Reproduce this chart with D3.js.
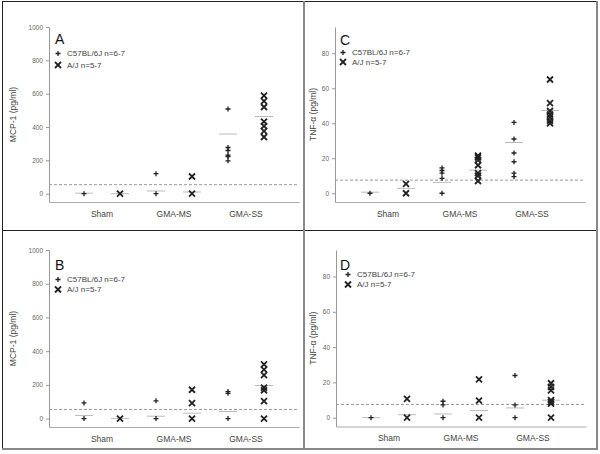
<!DOCTYPE html>
<html>
<head>
<meta charset="utf-8">
<script src="https://cdn.jsdelivr.net/npm/d3@7"></script>
<style>
  body { margin: 0; background: #fff; }
  svg { display: block; font-family: Arial, "Liberation Sans", sans-serif; }
</style>
</head>
<body>
<script>
// categories and legend
var groups = ["Sham", "GMA-MS", "GMA-SS"];
var strains = ["C57BL/6J", "A/J"];
var legendLabels = ["C57BL/6J n=6-7", "A/J n=5-7"];
var mcpTicks = [0, 200, 400, 600, 800, 1000];
var tnfTicks = [0, 20, 40, 60, 80];
var mcpLimit = 54;
var tnfLimit = 7.5;

// panel A - MCP-1
var mcpA_c57 = [[0], [120, 0], [508, 277, 259, 231, 223, 197]];
var mcpA_aj = [[0], [103, 0], [588, 555, 520, 432, 405, 375, 340]];
var mcpA_c57Mean = [3, 16, 358];
var mcpA_ajMean = [0, 10, 463];

// panel B - MCP-1
var mcpB_c57 = [[93, 0], [105, 0], [160, 150, 0]];
var mcpB_aj = [[0], [171, 91, 0], [322, 290, 258, 183, 168, 103, 0]];
var mcpB_c57Mean = [18, 14, 42];
var mcpB_ajMean = [0, 32, 196];

// panel C - TNF-alpha
var tnfC_c57 = [[0], [14.5, 13, 11.5, 8.5, 0], [40.5, 31, 23, 18, 11.5, 9.5]];
var tnfC_aj = [[5.4, 0], [21.5, 20.5, 19, 16, 11.5, 10, 7], [65, 51.5, 47, 45, 43.5, 41.5, 40]];
var tnfC_c57Mean = [0.6, 6.2, 29];
var tnfC_ajMean = [2.8, 13.2, 47.3];

// panel D - TNF-alpha
var tnfD_c57 = [[0], [9.3, 7.2, 0], [23.9, 7.2, 0]];
var tnfD_aj = [[10.6, 0], [21.7, 9.7, 0], [19.5, 17.5, 15.5, 10, 9, 8, 0]];
var tnfD_c57Mean = [0, 2.1, 5.5];
var tnfD_ajMean = [1.7, 4, 9.9];

var W = 600, H = 454;
var svg = d3.select("body").append("svg")
  .attr("width", W)
  .attr("height", H);

// frame
svg.append("line").attr("x1", 2).attr("x2", 597).attr("y1", 1.5).attr("y2", 1.5).attr("stroke", "#222");
svg.append("line").attr("x1", 2.5).attr("x2", 2.5).attr("y1", 1).attr("y2", 449).attr("stroke", "#222");
svg.append("line").attr("x1", 2).attr("x2", 597).attr("y1", 230.5).attr("y2", 230.5).attr("stroke", "#222");
svg.append("line").attr("x1", 304).attr("x2", 304).attr("y1", 1).attr("y2", 449).attr("stroke", "#888").attr("stroke-width", 2);
svg.append("line").attr("x1", 597).attr("x2", 597).attr("y1", 1).attr("y2", 449).attr("stroke", "#888").attr("stroke-width", 2);
svg.append("line").attr("x1", 2).attr("x2", 598).attr("y1", 449).attr("y2", 449).attr("stroke", "#888").attr("stroke-width", 2);

var plusPath = "M-2.5,0H2.5M0,-2.5V2.5";
var crossPath = "M-3,-3L3,3M-3,3L3,-3";

function drawPanel(p) {
  var g = svg.append("g");
  var width = 250;

  var y = d3.scaleLinear().domain(p.domain).range([p.bottom, p.top]);
  var x0 = d3.scaleBand().domain(groups)
    .range([p.x0, p.x0 + width])
    .paddingInner(0).paddingOuter(0.236);
  var x1 = d3.scaleBand().domain(strains).range([0, x0.bandwidth()]);

  // y axis
  var ya = g.append("g")
    .attr("transform", "translate(" + p.x0 + ",0)")
    .call(d3.axisLeft(y).tickValues(p.ticks).tickFormat(d3.format("d"))
      .tickSize(3).tickSizeOuter(0).tickPadding(3));
  ya.select(".domain").attr("stroke", "#999");
  ya.selectAll(".tick line").attr("stroke", "#999");
  ya.selectAll(".tick text").attr("fill", "#666").style("font-size", "6.5px");

  // x axis
  var xa = g.append("g")
    .attr("transform", "translate(0," + p.bottom + ")")
    .call(d3.axisBottom(x0).tickSize(0).tickPadding(8.5).tickSizeOuter(0));
  xa.select(".domain").attr("stroke", "#aaa");
  xa.selectAll(".tick text").attr("fill", "#444").style("font-size", "8.5px");

  // y title
  g.append("text")
    .attr("transform", "translate(" + p.titleX + "," + ((p.top + p.bottom) / 2) + ") rotate(-90)")
    .attr("text-anchor", "middle")
    .attr("dy", "0.35em")
    .attr("fill", "#444")
    .style("font-size", "8.5px")
    .text(p.title);

  // detection limit
  g.append("line")
    .attr("x1", p.x0).attr("x2", p.x0 + width)
    .attr("y1", y(p.limit)).attr("y2", y(p.limit))
    .attr("stroke", "#999")
    .attr("stroke-dasharray", "3,2");

  var sets = [
    { strain: strains[0], vals: p.c57, means: p.c57Mean, path: plusPath, sw: 1.3 },
    { strain: strains[1], vals: p.aj, means: p.ajMean, path: crossPath, sw: 1.8 }
  ];

  sets.forEach(function(s) {
    groups.forEach(function(grp, gi) {
      var cx = x0(grp) + x1(s.strain) + x1.bandwidth() / 2;
      g.append("line")
        .attr("x1", cx - 9).attr("x2", cx + 9)
        .attr("y1", y(s.means[gi])).attr("y2", y(s.means[gi]))
        .attr("stroke", "#bbb");
      g.selectAll(null)
        .data(s.vals[gi])
        .join("path")
        .attr("d", s.path)
        .attr("transform", function(d) { return "translate(" + cx + "," + y(d) + ")"; })
        .attr("fill", "none")
        .attr("stroke", "#222")
        .attr("stroke-width", s.sw);
    });
  });

  // panel letter
  g.append("text")
    .attr("x", p.letterX).attr("y", p.letterY)
    .attr("fill", "#111")
    .style("font-size", "14px")
    .text(p.letter);

  // legend
  var leg = g.selectAll(".leg")
    .data(legendLabels)
    .join("g")
    .attr("class", "leg")
    .attr("transform", function(d, i) { return "translate(" + p.legX + "," + (p.legY + i * p.legDy) + ")"; });
  leg.append("path")
    .attr("d", function(d, i) { return i === 0 ? plusPath : crossPath; })
    .attr("fill", "none")
    .attr("stroke", "#222")
    .attr("stroke-width", function(d, i) { return i === 0 ? 1.3 : 1.8; });
  leg.append("text")
    .attr("x", 9)
    .attr("dy", "0.35em")
    .attr("fill", "#444")
    .style("font-size", "8px")
    .text(function(d) { return d; });
}

drawPanel({ letter: "A", title: "MCP-1 (pg/ml)", domain: [-50, 1000], ticks: mcpTicks, limit: mcpLimit,
  c57: mcpA_c57, aj: mcpA_aj, c57Mean: mcpA_c57Mean, ajMean: mcpA_ajMean,
  x0: 49, top: 27, bottom: 202, titleX: 13, letterX: 55, letterY: 43.5, legX: 58, legY: 53.5, legDy: 11.5 });

drawPanel({ letter: "C", title: "TNF-\u03b1 (pg/ml)", domain: [-5, 95], ticks: tnfTicks, limit: tnfLimit,
  c57: tnfC_c57, aj: tnfC_aj, c57Mean: tnfC_c57Mean, ajMean: tnfC_ajMean,
  x0: 335, top: 27, bottom: 202, titleX: 313, letterX: 340, letterY: 45, legX: 343, legY: 52.5, legDy: 9.5 });

drawPanel({ letter: "B", title: "MCP-1 (pg/ml)", domain: [-50, 1000], ticks: mcpTicks, limit: mcpLimit,
  c57: mcpB_c57, aj: mcpB_aj, c57Mean: mcpB_c57Mean, ajMean: mcpB_ajMean,
  x0: 49, top: 250, bottom: 427, titleX: 13, letterX: 55, letterY: 270, legX: 58, legY: 279.5, legDy: 10 });

drawPanel({ letter: "D", title: "TNF-\u03b1 (pg/ml)", domain: [-5, 95], ticks: tnfTicks, limit: tnfLimit,
  c57: tnfD_c57, aj: tnfD_aj, c57Mean: tnfD_c57Mean, ajMean: tnfD_ajMean,
  x0: 336, top: 250, bottom: 426.5, titleX: 313, letterX: 340, letterY: 269.5, legX: 348, legY: 274.5, legDy: 10 });
</script>
</body>
</html>
